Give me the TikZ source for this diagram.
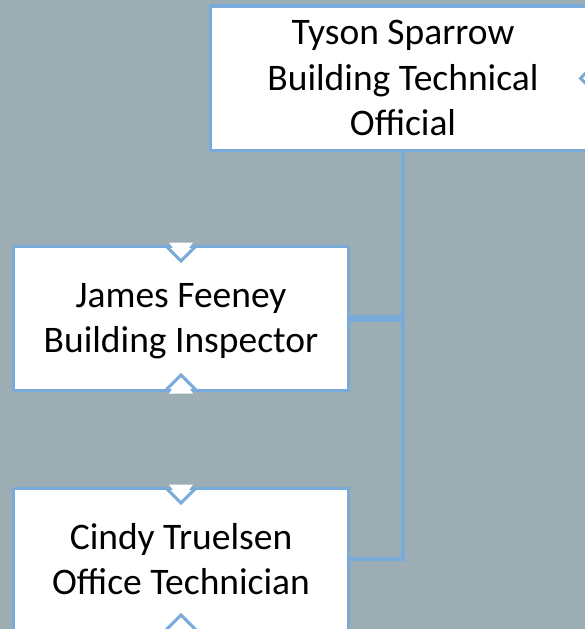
\documentclass[tikz,border=0pt]{standalone}
\usepackage{fontspec}
\setmainfont{Carlito}
\definecolor{bg}{RGB}{156,174,179}
\definecolor{ln}{RGB}{120,170,218}
\newcommand\notch[3]{%
  \begin{scope}[shift={(#1,#2)},rotate=#3]
    \fill[white] (-12,-3.5) -- (12,-3.5) -- (0,13) -- cycle;
    \draw[ln,line width=3pt] (-15,0) -- (0,15) -- (15,0);
  \end{scope}}
\begin{document}
\begin{tikzpicture}[x=1pt,y=-1pt,
  box/.style={draw=ln, fill=white, line width=3pt, outer sep=0pt, inner sep=0pt,
    align=center, font=\fontsize{37.5}{45.5}\selectfont},
  conn/.style={draw=ln, line width=4.5pt}]
\useasboundingbox (0,0) rectangle (585,629);
\clip (0,0) rectangle (585,629);
\fill[bg] (0,0) rectangle (585,629);
\node[box, line width=3.5pt, minimum width=385pt, minimum height=144.5pt] (tyson) at (403,78.25)
  {Tyson Sparrow\\Building Technical\\Official};
\node[box, minimum width=335pt, minimum height=144pt, text depth=0pt] (james) at (181,318)
  {James Feeney\\Building Inspector};
\node[box, minimum width=335pt, minimum height=142pt] (cindy) at (181,559)
  {Cindy Truelsen\\Office Technician};
\draw[conn] (tyson.south) -- (tyson.south |- cindy.east) -- (cindy.east);
\draw[conn, line width=7pt] (james.east) -- (james.east -| tyson.south);
\notch{595.5}{78.25}{-90}
\notch{181}{246}{0}
\notch{181}{390}{180}
\notch{181}{488}{0}
\notch{181}{630}{180}
\end{tikzpicture}
\end{document}
